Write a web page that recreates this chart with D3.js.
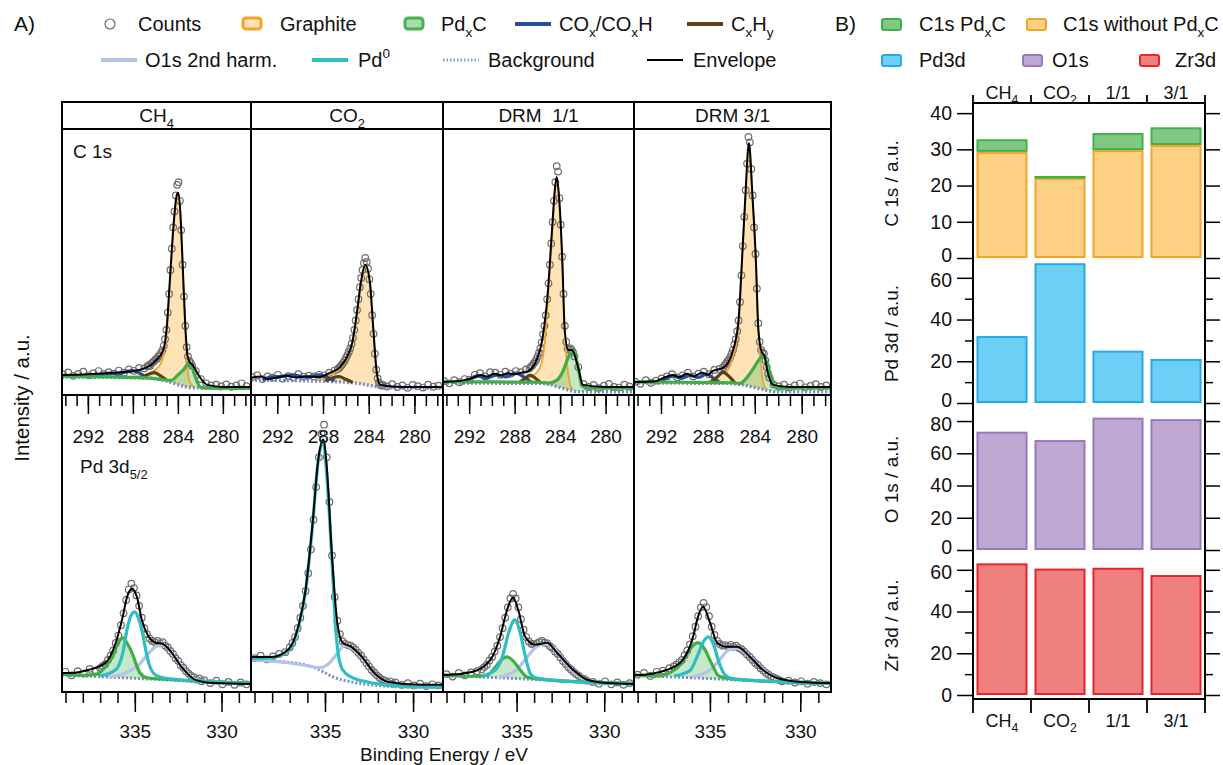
<!DOCTYPE html>
<html>
<head>
<meta charset="utf-8">
<script src="https://cdn.jsdelivr.net/npm/d3@7"></script>
<style>
  body { margin: 0; background: #fff; }
  svg text { font-family: "Liberation Sans", Arial, Helvetica, sans-serif; fill: #111; }
</style>
</head>
<body>
<svg id="chart" width="1223" height="765"></svg>
<script>
// ---------- data : panel A (XPS spectra, intensities in a.u. 0..100 per row) ----------
const conditionLabels = ["CH_4", "CO_2", "DRM  1/1", "DRM 3/1"];
const c1sTicks = [292, 288, 284, 280];
const pdTicks = [335, 330];

const c1sEnergy = [294.2,293.75,293.3,292.85,292.4,291.95,291.5,291.05,290.6,290.15,289.7,289.25,288.8,288.35,287.9,287.45,287.0,
  286.7,286.58,286.46,286.34,286.22,286.1,285.98,285.86,285.74,285.62,285.5,285.38,285.26,285.14,285.02,284.9,284.78,284.66,284.54,
  284.42,284.3,284.18,284.06,283.94,283.82,283.7,283.58,283.46,283.34,283.22,283.1,282.98,282.86,282.74,
  282.4,281.95,281.5,281.05,280.6,280.15,279.7,279.25,278.8,278.35,277.9];

const c1sCountsCH4 = [7.8,8.5,7.2,7.9,8.8,7.4,8.2,9.0,7.9,8.6,8.0,9.2,8.4,9.6,9.1,10.2,10.0,
  10.8,11.2,11.0,12.0,12.3,12.8,13.4,13.6,14.5,15.0,15.8,16.8,18.5,21,24.5,31,38,47,55,63,69,75,79,80,73,62,49,37,26,18,14.5,12.8,12.0,11.0,
  9.0,6.0,4.4,3.6,3.9,3.2,4.0,3.1,3.6,4.4,3.3];
const c1sCountsCO2 = [6.8,7.4,6.0,7.0,6.5,7.6,6.2,7.1,6.6,7.8,6.9,7.3,7.0,7.6,7.4,8.4,9.2,
  9.8,10.2,10.8,11.4,12.2,13.0,14.0,15.0,16.2,17.5,19.2,21.5,24.5,28,32,36,40.5,44,47,49.5,51.5,50,47.5,43.5,38,30,23,15.5,9.5,6.2,4.6,3.9,3.5,3.8,
  3.2,4.1,3.0,3.6,2.7,3.8,3.3,2.8,3.9,3.1,3.5];
const c1sCountsDRM11 = [5.2,4.4,5.6,4.8,6.0,5.8,7.6,8.2,7.0,8.6,8.4,7.6,8.8,8.0,9.0,8.6,9.6,
  10.0,10.6,11.0,11.8,12.4,13.2,14.5,15.8,17.5,19.8,22.8,26,30,36,42,49,57,65,73,80,86,84,74,64,52,38,26,20,17.5,17,17.5,17,16,14.5,
  10.5,4.2,3.0,3.8,2.6,3.5,4.2,3.0,2.8,3.9,3.2];
const c1sCountsDRM31 = [5.0,4.2,5.6,4.6,5.4,6.2,7.0,7.8,6.6,7.4,8.4,7.0,8.0,8.8,7.8,9.4,9.8,
  10.4,11.2,11.8,12.6,13.2,14.2,15.5,17,19,21,24,28,35,45,56,67,77,87,97,95,85,75,63,53,40,27,20,17,16,15.5,13,10.5,8,6.5,
  4.0,3.2,3.9,2.8,3.6,4.3,2.9,3.4,4.1,3.0,3.6];

// fitted components, [binding energy, intensity]
const c1sEnvelopeCH4 = [[294.3,7.5],[292,7.8],[290,8.3],[288.3,8.8],[286.7,10.5],[285.9,13.2],[285.3,16.9],[285.0,25],[284.7,44],[284.4,63],[284.15,74],[284.0,76],[283.8,70],[283.6,52],[283.35,27],[283.15,15],[282.95,12.4],[282.7,11.3],[282.0,6.4],[281.4,3.8],[280,3.0],[277.5,3.0]];
const c1sBackgroundCH4 = [[294.3,6.8],[287,6.4],[285.5,5.8],[284.5,4.6],[283.5,3.3],[282.5,2.7],[277.5,2.6]];
const c1sGraphiteCH4 = [[289,6.7],[287,7.5],[286,9.5],[285.5,12],[285.2,17],[285.0,23],[284.7,42],[284.4,62],[284.15,73],[284.0,75.5],[283.8,69],[283.6,50],[283.35,24],[283.15,10],[282.9,4.5],[282.5,2.9]];
const c1sPdxCCH4 = [[294.3,7.0],[290,6.8],[287,6.5],[285.5,5.9],[284.6,5.5],[284,7.5],[283.5,9.5],[283.0,12],[282.7,10],[282.3,5],[281.9,2.7],[277.5,2.5]];
const c1sCOxCH4 = [[291.6,6.9],[290.8,7.6],[290.0,8.2],[289.3,7.8],[288.6,8.8],[288.0,9.2],[287.4,8.2],[286.8,6.6]];
const c1sCxHyCH4 = [[287.3,6.4],[286.6,7.8],[286.1,8.4],[285.6,7.4],[285.0,5.6]];

const c1sEnvelopeCO2 = [[294.3,6.4],[293.5,7.0],[292.8,6.0],[292,6.6],[291.2,7.2],[290.4,6.6],[289.5,7.0],[288.3,6.8],[287.4,8.3],[286.5,10.5],[285.9,14.3],[285.45,19.5],[285.0,32],[284.7,42],[284.3,49],[283.9,42.5],[283.6,25],[283.3,8.6],[283.0,3.8],[281,3.0],[277.5,3.0]];
const c1sBackgroundCO2 = [[294.3,5.6],[288,5.2],[285,4.4],[283.5,3.3],[282.5,2.7],[277.5,2.6]];
const c1sGraphiteCO2 = [[288.6,5.3],[287.4,7.5],[286.5,9.8],[285.9,13.6],[285.45,18.8],[285.0,31],[284.7,41],[284.3,48.5],[283.9,42],[283.6,24.5],[283.3,8],[283.0,3.0]];
const c1sCOxCO2 = [[293.3,5.6],[292.5,6.8],[291.5,7.0],[290.6,7.6],[289.8,6.8],[289.0,7.0],[288.3,7.6],[287.6,6.6],[287.0,5.3]];
const c1sCxHyCO2 = [[287.8,5.2],[287.2,6.4],[286.6,6.9],[286.0,5.9],[285.4,4.7]];

const c1sEnvelopeDRM11 = [[294.3,4.9],[292.5,5.5],[291.7,6.4],[291,7.5],[290.4,7.0],[289.8,8.0],[289.2,7.4],[288.6,8.2],[288,7.8],[287.4,8.4],[286.9,8.8],[286.0,13.9],[285.5,22.6],[285.1,37.6],[284.7,62.8],[284.45,77.8],[284.3,82],[284.1,75],[283.8,50],[283.6,25],[283.3,17],[282.95,16.9],[282.4,10.2],[282.0,3.8],[280,3.0],[277.5,3.0]];
const c1sBackgroundDRM11 = [[294.3,4.5],[286,4.4],[285,4.0],[284,2.8],[283,1.6],[282.2,1.2],[277.5,1.2]];
const c1sGraphiteDRM11 = [[287.6,5.4],[286.5,7],[285.8,10],[285.4,18],[285.1,34],[284.7,60],[284.45,76],[284.3,81],[284.1,74],[283.8,49],[283.6,24],[283.35,10],[283.15,4.5],[282.9,2.0]];
const c1sPdxCDRM11 = [[294.3,5.0],[290,4.9],[286,4.8],[285,4.5],[284.3,5.5],[283.7,9.4],[283.3,14],[282.95,16.9],[282.6,14],[282.4,10],[282.1,4],[281.7,2.6],[277.5,2.6]];
const c1sCOxDRM11 = [[292.6,4.8],[292,5.8],[291.3,7.2],[290.5,6.3],[289.6,7.6],[288.8,6.8],[287.9,8.2],[287.2,6.8],[286.6,5.0]];
const c1sCxHyDRM11 = [[287.6,4.6],[287.1,6.2],[286.65,7.5],[286.2,6.4],[285.7,4.6]];

const c1sEnvelopeDRM31 = [[294.3,4.9],[292.5,5.2],[291.8,6.4],[291.0,7.5],[290.4,6.8],[289.8,8.0],[289.2,7.0],[288.5,8.4],[288.0,7.6],[287.6,9.0],[286.7,10.2],[285.9,16.2],[285.4,27.4],[285.1,50],[284.8,75],[284.5,94.7],[284.2,75],[283.9,50],[283.7,25],[283.4,16],[283.2,15],[282.9,8.6],[282.45,3.8],[281,3.0],[277.5,3.0]];
const c1sBackgroundDRM31 = [[294.3,4.5],[286.5,4.4],[285,3.8],[284,2.8],[283,1.8],[282.2,1.2],[277.5,1.2]];
const c1sGraphiteDRM31 = [[288,5.0],[287,7.5],[286.3,9.5],[285.9,14],[285.4,25],[285.1,48],[284.8,74],[284.5,94],[284.2,74],[283.9,49],[283.7,24],[283.45,10],[283.2,3.5],[283.0,2.0]];
const c1sPdxCDRM31 = [[294.3,4.9],[290,4.8],[286,4.6],[285.3,4.4],[284.2,9.4],[283.6,13.5],[283.3,15],[283.0,12.5],[282.7,8.3],[282.1,2.6],[277.5,2.6]];
const c1sCOxDRM31 = [[292.3,4.8],[291.6,6.2],[291.0,7.2],[290.3,6.2],[289.5,7.4],[288.8,6.6],[288.1,7.8],[287.5,6.2],[287.0,4.8]];
const c1sCxHyDRM31 = [[287.8,4.6],[287.2,6.8],[286.7,8.6],[286.2,7],[285.7,4.6]];

const pdEnergy = [339.0,338.65,338.3,337.95,337.6,337.25,
  337.0,336.85,336.7,336.55,336.4,336.25,336.1,335.95,335.8,335.65,335.5,335.35,335.2,335.05,334.9,334.75,334.6,334.45,334.3,334.15,
  334.0,333.85,333.7,333.55,333.4,333.25,333.1,332.95,332.8,332.65,332.5,332.35,332.2,332.05,331.9,331.75,331.6,331.45,331.3,331.15,331.0,
  330.65,330.3,329.95,329.6,329.25,328.9,328.55];

const pdCountsCH4 = [6.8,5.6,7.0,6.2,7.8,7.2,
  8.0,8.8,9.4,10.8,12.2,14.0,16.5,19,22.5,26.5,31,34.5,36.5,35,32.5,29,25,21.5,19.5,18,17.2,16.8,17.2,16.4,16.8,15.6,15.0,13.8,12.8,11.4,10.5,9.0,8.2,7.0,6.2,5.4,5.0,4.2,4.6,3.6,4.0,
  3.0,3.8,2.6,3.4,2.4,3.2,2.6];
const pdCountsCO2 = [11.4,12.2,11.0,12.0,12.8,13.4,
  15.0,16.5,18.5,21.5,25,29,34,40,48,58,69,79,87,90,79,64,46,32,24,19.5,17,16.2,15.8,15.6,15.0,14.2,13.2,12.2,11.0,9.8,8.6,7.4,6.6,5.6,4.8,4.2,3.8,3.2,3.6,2.8,3.2,
  2.4,3.0,2.2,2.8,2.0,2.6,2.2];
const pdCountsDRM11 = [6.0,5.2,6.4,5.6,6.6,7.0,
  7.6,8.4,9.2,10.6,11.8,13.6,15.6,18.5,21.5,25,28.5,31.5,33,31.5,28.5,24.5,21,18.5,17,16.2,16.0,16.4,16.8,17.2,16.6,16.4,15.4,14.8,13.6,12.8,11.6,10.4,9.4,8.4,7.6,6.8,6.0,5.4,4.6,4.4,3.8,
  3.4,2.8,3.6,2.6,3.2,2.4,3.0];
const pdCountsDRM31 = [5.8,6.4,5.4,6.8,7.2,8.0,
  8.6,9.2,10.0,10.8,12.4,14.0,16.0,18.8,22.0,25.5,28.5,30,28.6,25.5,22,19.2,17.2,16.2,15.6,15.8,15.4,15.9,15.2,15.6,14.8,14.4,13.6,12.6,11.8,10.8,9.8,9.0,8.0,7.2,6.4,5.8,5.2,4.8,4.4,4.0,3.6,
  3.8,3.2,3.6,2.8,3.4,3.0,2.6];

const pdEnvelopeCH4 = [[339.2,6.4],[338.7,6.4],[337.7,7.4],[336.7,9.8],[336.1,16.6],[335.7,25.3],[335.45,32],[335.16,34.8],[334.87,31.8],[334.6,24.3],[334.2,18.6],[333.8,16.6],[333.4,16.2],[333.0,14.2],[332.3,8.4],[331.5,4.1],[330.4,3.0],[328.3,2.7]];
const pdBackgroundCH4 = [[339.2,5.7],[336,4.9],[333,4.0],[330,3.1],[328.3,2.8]];
const pdPd0CH4 = [[337,5.4],[336.1,7.5],[335.7,13],[335.45,21],[335.2,26],[335.0,27],[334.8,25],[334.6,21],[334.4,15],[334.2,9.8],[333.8,5.7],[333.2,4.6],[331,3.6],[328.3,2.9]];
const pdPdxCCH4 = [[339.2,6.0],[338,5.6],[337.2,6.0],[336.7,8.5],[336.3,11.8],[336.0,16],[335.7,18.2],[335.4,16],[335.16,13.2],[334.9,9],[334.7,6.4],[334.3,4.8],[333,4.2],[330,3.3],[328.3,3.0]];
const pdO1sCH4 = [[336.5,5.0],[335.5,6.5],[334.8,9],[334.2,13],[333.8,15.3],[333.4,15.9],[333.0,14.0],[332.5,10],[332.0,6.5],[331.5,4.2],[330.5,3.2],[329.5,3.0]];

const pdEnvelopeCO2 = [[339.2,11.8],[338,11.8],[337.1,14.2],[336.5,22.5],[336.1,34.5],[335.7,57],[335.4,77.4],[335.1,85],[334.9,76],[334.6,45.6],[334.3,23.3],[334.0,16.6],[333.5,15.2],[332.9,11.8],[332.2,6.4],[331.4,3.4],[329.5,2.4],[328.3,2.4]];
const pdBackgroundCO2 = [[339.2,10.8],[337.5,10.2],[336.5,9.6],[335.5,8.0],[335,6.5],[334.5,5.0],[333.5,3.4],[332,2.2],[330,1.6],[328.3,1.5]];
const pdPd0CO2 = [[339.2,11.2],[338,11.6],[337.1,13.8],[336.5,22],[336.1,34],[335.7,56.5],[335.4,77],[335.1,84.5],[334.9,73],[334.6,44],[334.4,22],[334.2,11],[334.0,7.5],[333.5,5],[332.5,3.3],[331.5,2.4],[330.5,1.9],[329.5,1.7],[328.3,1.6]];
const pdO1sCO2 = [[339.2,10.8],[337,9.8],[336,8.8],[335.3,8.2],[334.8,9.5],[334.3,13],[333.9,15.6],[333.5,14.8],[332.9,11.6],[332.2,6.2],[331.4,3.2],[330.5,2.0],[329.5,1.7]];

const pdEnvelopeDRM11 = [[339.2,5.7],[339,5.7],[337.5,6.8],[336.5,10.8],[335.94,18.6],[335.54,27.7],[335.2,31.8],[334.91,27.7],[334.51,18.6],[333.94,15.9],[333.26,16.6],[332.69,13.2],[331.77,7.4],[330.97,4.1],[329.83,3.0],[328.3,2.7]];
const pdBackgroundDRM11 = [[339.2,5.5],[336,4.8],[333,3.9],[330,3.0],[328.3,2.7]];
const pdPd0DRM11 = [[337,5.4],[336.2,7.5],[335.8,12],[335.45,20],[335.1,24.3],[334.8,20],[334.5,12],[334.2,6],[333.8,4.6],[332,3.6],[330,3.0],[328.3,2.8]];
const pdPdxCDRM11 = [[339.2,5.8],[337.5,5.3],[336.7,5.6],[336.2,8.5],[335.8,11.2],[335.54,11.8],[335.2,10.5],[334.8,7.5],[334.4,5.0],[333,4.0],[330,3.2],[328.3,3.0]];
const pdO1sDRM11 = [[336,5],[335,7.5],[334.5,11],[334,14.5],[333.5,16.2],[333.0,15.5],[332.5,12],[331.8,7],[331,4],[330,3.1]];

const pdEnvelopeDRM31 = [[339.2,5.7],[339,5.7],[337.4,7.4],[336.5,10.8],[335.93,18.6],[335.66,25.3],[335.38,28.7],[334.99,23.3],[334.6,16.6],[334.05,15.2],[333.5,15.2],[332.78,11.8],[332.06,7.4],[331.29,4.7],[330,3.4],[328.3,3.0]];
const pdBackgroundDRM31 = [[339.2,5.5],[336,4.8],[333,3.9],[330,3.1],[328.3,2.8]];
const pdPd0DRM31 = [[337,5.4],[336.1,7.2],[335.7,12],[335.35,17],[335.1,18.6],[334.8,16],[334.5,10],[334.2,6],[333.8,4.6],[332,3.7],[330,3.1],[328.3,2.9]];
const pdPdxCDRM31 = [[339.2,5.8],[337.8,5.4],[337.2,6.5],[336.6,9.5],[336.1,14.5],[335.66,16.6],[335.3,14.5],[334.9,9.5],[334.5,5.4],[333.5,4.2],[330,3.3],[328.3,3.0]];
const pdO1sDRM31 = [[336,5],[335,7.5],[334.5,10.5],[334,14],[333.5,14.8],[333,13],[332.3,9],[331.6,5.5],[331,4],[330,3.3]];

// ---------- data : panel B (integrated areas) ----------
const barCategories = ["CH_4", "CO_2", "1/1", "3/1"];
const c1sWithoutPdxC = [29.3, 22.1, 29.8, 31.2];
const c1sPdxC = [3.5, 0.55, 4.7, 4.9];
const pd3dArea = [32.1, 67.0, 25.1, 21.1];
const o1sArea = [73.4, 68.2, 82.1, 81.2];
const zr3dArea = [63.1, 60.6, 61.0, 57.5];
const c1sAxisTicks = [0, 10, 20, 30, 40];
const pdAxisTicks = [0, 20, 40, 60];
const o1sAxisTicks = [0, 20, 40, 60, 80];
const zrAxisTicks = [0, 20, 40, 60];
const minorTicks20 = [10, 30, 50];

// ---------- helpers ----------
const svg = d3.select("#chart");
const FONT = "'Liberation Sans', Arial, Helvetica, sans-serif";

function rich(sel, str) {
  const re = /([_^])(\{[^}]*\}|.)/g;
  const parts = [];
  let last = 0, m;
  while ((m = re.exec(str)) !== null) {
    if (m.index > last) parts.push([str.slice(last, m.index), 0]);
    parts.push([m[2][0] === "{" ? m[2].slice(1, -1) : m[2], m[1] === "_" ? 1 : -1]);
    last = re.lastIndex;
  }
  if (last < str.length) parts.push([str.slice(last), 0]);
  const fs = parseFloat(sel.attr("font-size")) || 19;
  let shift = 0;
  parts.forEach(([t, s]) => {
    const target = s === 1 ? 0.3 : s === -1 ? -0.45 : 0;
    sel.append("tspan")
      .attr("dy", (target - shift) * fs)
      .attr("font-size", s ? fs * 0.68 : null)
      .text(t);
    shift = target;
  });
  return sel;
}

function label(g, x, y, str, fs, anchor) {
  const t = g.append("text").attr("x", x).attr("y", y)
    .attr("font-size", fs).attr("text-anchor", anchor || "start")
    .style("white-space", "pre");
  return rich(t, str);
}

function styleAxis(g, fs) {
  g.select(".domain").remove();
  g.selectAll(".tick line").attr("stroke", "#000").attr("stroke-width", 1.5);
  g.selectAll(".tick text").attr("font-family", FONT).attr("font-size", fs).attr("fill", "#111");
}

const col = {
  graphite: "#f4a229", graphiteFill: "#fde3b6",
  pdxc: "#3fae49", pdxcFill: "rgba(90,190,95,0.35)",
  cox: "#22509e", cxhy: "#5b4015", o1s: "#b3c3e9", pd0: "#2dbdc3",
  bg: "#7a8cc4", env: "#000", counts: "#6e6e6e"
};

// ---------- panel A ----------
const colEdges = [62, 251, 443, 634, 831];
const frameTop = 102, headerBottom = 129, rowSplit = 395, frameBottom = 692;
const c1sDomain = [294.3, 277.5], pdDomain = [339.2, 328.3];
const yC = d3.scaleLinear().domain([0, 100]).range([rowSplit, headerBottom]);
const yP = d3.scaleLinear().domain([0, 100]).range([frameBottom, rowSplit]);

const c1sPanels = [
  { counts: c1sCountsCH4, envelope: c1sEnvelopeCH4, background: c1sBackgroundCH4, graphite: c1sGraphiteCH4, pdxc: c1sPdxCCH4, cox: c1sCOxCH4, cxhy: c1sCxHyCH4 },
  { counts: c1sCountsCO2, envelope: c1sEnvelopeCO2, background: c1sBackgroundCO2, graphite: c1sGraphiteCO2, pdxc: null, cox: c1sCOxCO2, cxhy: c1sCxHyCO2 },
  { counts: c1sCountsDRM11, envelope: c1sEnvelopeDRM11, background: c1sBackgroundDRM11, graphite: c1sGraphiteDRM11, pdxc: c1sPdxCDRM11, cox: c1sCOxDRM11, cxhy: c1sCxHyDRM11 },
  { counts: c1sCountsDRM31, envelope: c1sEnvelopeDRM31, background: c1sBackgroundDRM31, graphite: c1sGraphiteDRM31, pdxc: c1sPdxCDRM31, cox: c1sCOxDRM31, cxhy: c1sCxHyDRM31 }
];
const pdPanels = [
  { counts: pdCountsCH4, envelope: pdEnvelopeCH4, background: pdBackgroundCH4, pd0: pdPd0CH4, pdxc: pdPdxCCH4, o1s: pdO1sCH4 },
  { counts: pdCountsCO2, envelope: pdEnvelopeCO2, background: pdBackgroundCO2, pd0: pdPd0CO2, pdxc: null, o1s: pdO1sCO2 },
  { counts: pdCountsDRM11, envelope: pdEnvelopeDRM11, background: pdBackgroundDRM11, pd0: pdPd0DRM11, pdxc: pdPdxCDRM11, o1s: pdO1sDRM11 },
  { counts: pdCountsDRM31, envelope: pdEnvelopeDRM31, background: pdBackgroundDRM31, pd0: pdPd0DRM31, pdxc: pdPdxCDRM31, o1s: pdO1sDRM31 }
];

const defs = svg.append("defs");

function lineFor(x, y) {
  return d3.line().x(d => x(d[0])).y(d => y(d[1])).curve(d3.curveMonotoneX);
}
// closed shape between a component and the background
function fillPath(curve, bg, x, y) {
  const hi = curve[0][0], lo = curve[curve.length - 1][0];
  const base = bg.filter(d => d[0] > lo && d[0] < hi).slice().reverse();
  return lineFor(x, y)(curve) + base.map(d => `L${x(d[0])},${y(d[1])}`).join("") + "Z";
}
function drawLine(g, data, x, y, color, width, dash) {
  g.append("path").datum(data).attr("d", lineFor(x, y))
    .attr("fill", "none").attr("stroke", color).attr("stroke-width", width)
    .attr("stroke-dasharray", dash || null).attr("stroke-linejoin", "round");
}
function drawCounts(g, energies, values, x, y) {
  g.append("g").selectAll("circle").data(energies.map((e, i) => [e, values[i]]))
    .join("circle")
    .attr("cx", d => x(d[0])).attr("cy", d => y(d[1])).attr("r", 3.3)
    .attr("fill", "none").attr("stroke", col.counts).attr("stroke-width", 1.2);
}

const gA = svg.append("g");

conditionLabels.forEach((name, i) => {
  const x0 = colEdges[i], x1 = colEdges[i + 1];
  const xC = d3.scaleLinear().domain(c1sDomain).range([x0, x1]);
  const xP = d3.scaleLinear().domain(pdDomain).range([x0, x1]);

  defs.append("clipPath").attr("id", "clipC" + i).append("rect")
    .attr("x", x0).attr("y", headerBottom).attr("width", x1 - x0).attr("height", rowSplit - headerBottom);
  defs.append("clipPath").attr("id", "clipP" + i).append("rect")
    .attr("x", x0).attr("y", rowSplit).attr("width", x1 - x0).attr("height", frameBottom - rowSplit);

  // C 1s row
  const c = c1sPanels[i];
  const gc = gA.append("g").attr("clip-path", `url(#clipC${i})`);
  gc.append("path").attr("d", fillPath(c.graphite, c.background, xC, yC)).attr("fill", col.graphiteFill);
  if (c.pdxc) gc.append("path").attr("d", fillPath(c.pdxc, c.background, xC, yC)).attr("fill", col.pdxcFill);
  drawCounts(gc, c1sEnergy, c.counts, xC, yC);
  drawLine(gc, c.graphite, xC, yC, col.graphite, 1.8);
  drawLine(gc, c.background, xC, yC, col.bg, 3.5, "2,2");
  drawLine(gc, c.cox, xC, yC, col.cox, 3.2);
  drawLine(gc, c.cxhy, xC, yC, col.cxhy, 3.2);
  if (c.pdxc) drawLine(gc, c.pdxc, xC, yC, col.pdxc, 3.2);
  drawLine(gc, c.envelope, xC, yC, col.env, 2);

  // Pd 3d5/2 row
  const p = pdPanels[i];
  const gp = gA.append("g").attr("clip-path", `url(#clipP${i})`);
  if (p.pdxc) gp.append("path").attr("d", fillPath(p.pdxc, p.background, xP, yP)).attr("fill", col.pdxcFill);
  drawCounts(gp, pdEnergy, p.counts, xP, yP);
  drawLine(gp, p.background, xP, yP, col.bg, 3, "2,2");
  drawLine(gp, p.o1s, xP, yP, col.o1s, 3.2);
  if (p.pdxc) drawLine(gp, p.pdxc, xP, yP, col.pdxc, 3.2);
  drawLine(gp, p.pd0, xP, yP, col.pd0, 3.2);
  drawLine(gp, p.envelope, xP, yP, col.env, 2);

  // axes
  const aC = gA.append("g").attr("transform", `translate(0,${rowSplit})`)
    .call(d3.axisBottom(xC).tickValues(d3.range(278, 295)).tickSize(11).tickFormat(""));
  styleAxis(aC, 19);
  const aC2 = gA.append("g").attr("transform", `translate(0,${rowSplit})`)
    .call(d3.axisBottom(xC).tickValues(c1sTicks).tickSize(19).tickPadding(16).tickFormat(d3.format("d")));
  styleAxis(aC2, 19);
  const aP = gA.append("g").attr("transform", `translate(0,${frameBottom})`)
    .call(d3.axisBottom(xP).tickValues(d3.range(329, 340)).tickSize(11).tickFormat(""));
  styleAxis(aP, 19);
  const aP2 = gA.append("g").attr("transform", `translate(0,${frameBottom})`)
    .call(d3.axisBottom(xP).tickValues(pdTicks).tickSize(20).tickPadding(13).tickFormat(d3.format("d")));
  styleAxis(aP2, 19);

  label(gA, (x0 + x1) / 2, 122, name, 19, "middle");
});

// frame
gA.append("rect").attr("x", colEdges[0]).attr("y", frameTop)
  .attr("width", colEdges[4] - colEdges[0]).attr("height", frameBottom - frameTop)
  .attr("fill", "none").attr("stroke", "#000").attr("stroke-width", 2);
[headerBottom, rowSplit].forEach(yy => gA.append("line")
  .attr("x1", colEdges[0]).attr("x2", colEdges[4]).attr("y1", yy).attr("y2", yy)
  .attr("stroke", "#000").attr("stroke-width", 2));
colEdges.slice(1, 4).forEach(xx => gA.append("line")
  .attr("x1", xx).attr("x2", xx).attr("y1", frameTop).attr("y2", frameBottom)
  .attr("stroke", "#000").attr("stroke-width", 2));

label(gA, 73, 158, "C 1s", 19);
label(gA, 80, 473, "Pd 3d_{5/2}", 19);
gA.append("text").attr("transform", "translate(29,398) rotate(-90)")
  .attr("text-anchor", "middle").attr("font-size", 20.5).text("Intensity / a.u.");
gA.append("text").attr("x", 444).attr("y", 761).attr("text-anchor", "middle")
  .attr("font-size", 19).text("Binding Energy / eV");

// legend A
const gL = svg.append("g");
label(gL, 14, 31, "A)", 21);
gL.append("circle").attr("cx", 110).attr("cy", 24).attr("r", 5)
  .attr("fill", "none").attr("stroke", "#666").attr("stroke-width", 1.2);
label(gL, 138, 31, "Counts", 20);
gL.append("rect").attr("x", 243).attr("y", 18).attr("width", 18).attr("height", 11).attr("rx", 3)
  .attr("fill", col.graphiteFill).attr("stroke", col.graphite).attr("stroke-width", 3);
label(gL, 280, 31, "Graphite", 20);
gL.append("rect").attr("x", 405).attr("y", 18).attr("width", 18).attr("height", 11).attr("rx", 3)
  .attr("fill", "#a9dca9").attr("stroke", "#48b04f").attr("stroke-width", 3);
label(gL, 441, 31, "Pd_xC", 20);
const legendLines = [
  { x: 515, y: 24, c: col.cox, w: 4, tx: 559, t: "CO_x/CO_xH" },
  { x: 687, y: 24, c: col.cxhy, w: 4, tx: 731, t: "C_xH_y" },
  { x: 101, y: 60, c: col.o1s, w: 4, tx: 145, t: "O1s 2nd harm." },
  { x: 312, y: 60, c: col.pd0, w: 4, tx: 358, t: "Pd^0" },
  { x: 443, y: 60, c: "#7f9dd2", w: 3, tx: 488, t: "Background", dash: "1.5,2" },
  { x: 647, y: 60, c: "#000", w: 2, tx: 693, t: "Envelope" }
];
legendLines.forEach(d => {
  gL.append("line").attr("x1", d.x).attr("x2", d.x + 36).attr("y1", d.y).attr("y2", d.y)
    .attr("stroke", d.c).attr("stroke-width", d.w).attr("stroke-dasharray", d.dash || null);
  label(gL, d.tx, d.y + 7, d.t, 20);
});

// ---------- panel B ----------
const barColors = {
  pdxc: ["#82c784", "#3cb24a"], without: ["#fdd083", "#f4a42a"],
  pd: ["#6ccff5", "#27aae1"], o1s: ["#bfa9d3", "#9978bd"], zr: ["#f08080", "#e4262b"]
};
const bLeft = 973, bRight = 1205, bTop = 103, bBottom = 699;
const xB = d3.scaleBand().domain(barCategories).range([bLeft, bRight]).paddingInner(0.12).paddingOuter(0.06);
const gB = svg.append("g");

const subplots = [
  { name: "C 1s / a.u.", top: 103, bottom: 258, max: 42.8, ticks: c1sAxisTicks, minor: [] },
  { name: "Pd 3d / a.u.", top: 258, bottom: 403, max: 69.5, ticks: pdAxisTicks, minor: minorTicks20, values: pd3dArea, colors: barColors.pd },
  { name: "O 1s / a.u.", top: 403, bottom: 550, max: 91.2, ticks: o1sAxisTicks, minor: [], values: o1sArea, colors: barColors.o1s },
  { name: "Zr 3d / a.u.", top: 550, bottom: 695, max: 69.5, ticks: zrAxisTicks, minor: minorTicks20, values: zr3dArea, colors: barColors.zr }
];

function bar(g, cat, v0, v1, y, colors) {
  g.append("rect")
    .attr("x", xB(cat) + 1).attr("width", xB.bandwidth() - 2)
    .attr("y", y(v1) + 1).attr("height", Math.max(0.5, y(v0) - y(v1) - 2))
    .attr("fill", colors[0]).attr("stroke", colors[1]).attr("stroke-width", 2);
}

subplots.forEach((s, si) => {
  const y = d3.scaleLinear().domain([0, s.max]).range([s.bottom, s.top]);
  if (si === 0) {
    barCategories.forEach((c, i) => {
      bar(gB, c, 0, c1sWithoutPdxC[i], y, barColors.without);
      bar(gB, c, c1sWithoutPdxC[i], c1sWithoutPdxC[i] + c1sPdxC[i], y, barColors.pdxc);
    });
  } else {
    barCategories.forEach((c, i) => bar(gB, c, 0, s.values[i], y, s.colors));
  }
  const topTick = s.ticks[s.ticks.length - 1];
  const aL = gB.append("g").attr("transform", `translate(${bLeft},0)`)
    .call(d3.axisLeft(y).tickValues(s.ticks).tickSize(16).tickPadding(5).tickFormat(d3.format("d")));
  styleAxis(aL, 19.5);
  // keep stacked "0" and top labels of neighbouring sub-plots apart
  aL.selectAll(".tick text").attr("dy", d =>
    d === 0 && si < 3 ? "0.17em" : d === topTick && si > 0 ? "0.47em" : "0.32em");
  const aR = gB.append("g").attr("transform", `translate(${bRight},0)`)
    .call(d3.axisRight(y).tickValues(s.ticks).tickSize(15).tickFormat(""));
  styleAxis(aR, 20);
  if (s.minor.length) {
    styleAxis(gB.append("g").attr("transform", `translate(${bLeft},0)`)
      .call(d3.axisLeft(y).tickValues(s.minor).tickSize(8).tickFormat("")), 20);
    styleAxis(gB.append("g").attr("transform", `translate(${bRight},0)`)
      .call(d3.axisRight(y).tickValues(s.minor).tickSize(8).tickFormat("")), 20);
  }
  gB.append("text")
    .attr("transform", `translate(898,${(s.top + s.bottom) / 2 + 3}) rotate(-90)`)
    .attr("text-anchor", "middle").attr("font-size", 19).text(s.name);
});

// frame and category axes
[[bLeft, bTop, bLeft, bBottom], [bRight, bTop, bRight, bBottom], [bLeft, bTop, bRight, bTop], [bLeft, bBottom, bRight, bBottom]]
  .forEach(([x1, y1, x2, y2]) => gB.append("line").attr("x1", x1).attr("y1", y1).attr("x2", x2).attr("y2", y2)
    .attr("stroke", "#000").attr("stroke-width", 2));
const bounds = barCategories.map(c => xB(c) - xB.step() * xB.paddingInner() / 2).concat([bRight]);
bounds.forEach(bx => {
  gB.append("line").attr("x1", bx).attr("x2", bx).attr("y1", bTop).attr("y2", bTop - 8)
    .attr("stroke", "#000").attr("stroke-width", 1.8);
  gB.append("line").attr("x1", bx).attr("x2", bx).attr("y1", bBottom).attr("y2", bBottom + 14)
    .attr("stroke", "#000").attr("stroke-width", 1.8);
});
barCategories.forEach(c => {
  const cx = xB(c) + xB.bandwidth() / 2;
  label(gB, cx, 99, c, 18, "middle");
  label(gB, cx, 727, c, 18, "middle");
});

// legend B
label(gL, 835, 31, "B)", 21);
const legendB = [
  { x: 882, y: 24, c: barColors.pdxc, tx: 919, t: "C1s Pd_xC" },
  { x: 1027, y: 24, c: barColors.without, tx: 1063, t: "C1s without Pd_xC" },
  { x: 882, y: 60, c: barColors.pd, tx: 919, t: "Pd3d" },
  { x: 1023, y: 60, c: barColors.o1s, tx: 1052, t: "O1s" },
  { x: 1140, y: 60, c: barColors.zr, tx: 1175, t: "Zr3d" }
];
legendB.forEach(d => {
  gL.append("rect").attr("x", d.x).attr("y", d.y - 5).attr("width", 19).attr("height", 11).attr("rx", 2)
    .attr("fill", d.c[0]).attr("stroke", d.c[1]).attr("stroke-width", 2);
  label(gL, d.tx, d.y + 7, d.t, 20);
});
</script>
</body>
</html>
